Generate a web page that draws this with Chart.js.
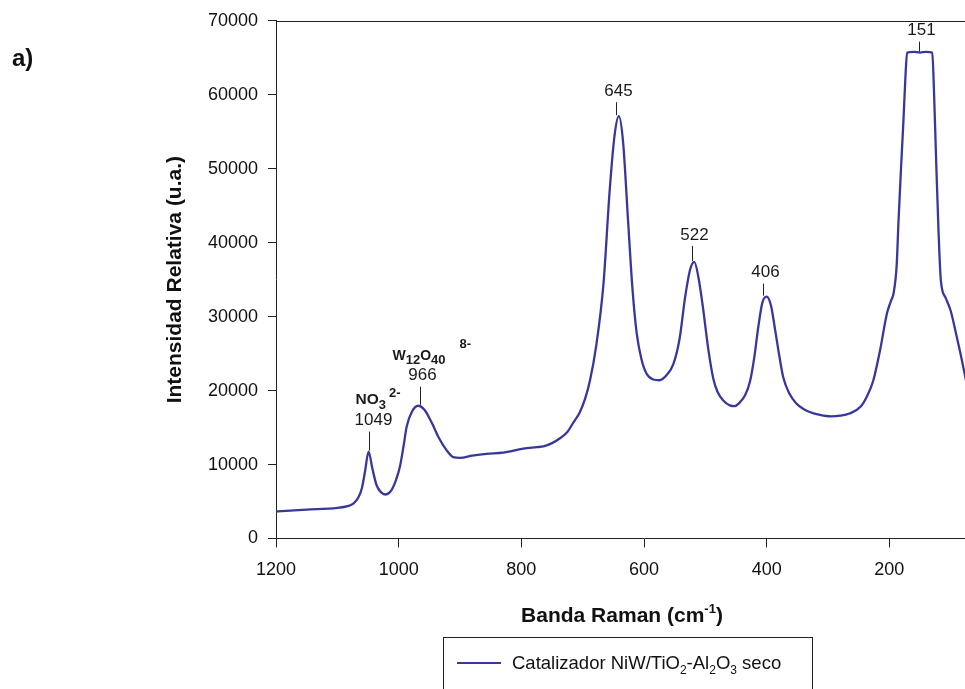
<!DOCTYPE html>
<html>
<head>
<meta charset="utf-8">
<script src="https://cdn.jsdelivr.net/npm/chart.js@4.4.1/dist/chart.umd.min.js"></script>
<style>
  body { margin: 0; width: 965px; height: 689px; overflow: hidden; background: #fff; position: relative; font-family: Arial, "Liberation Sans", sans-serif; }
  #wrap { position: absolute; left: 0; top: 0; width: 1030px; height: 689px; }
  #panel { position: absolute; left: 12px; top: 44px; font-weight: bold; font-size: 24px; color: #111; }
  #xtitle { position: absolute; left: 622px; top: 601px; transform: translateX(-50%); font-weight: bold; font-size: 21px; color: #111; white-space: nowrap; }
  #xtitle sup { font-size: 13px; vertical-align: 9px; }
  #legend { position: absolute; left: 443px; top: 637px; width: 368px; height: 80px; border: 1px solid #222; }
  #legend .swatch { position: absolute; left: 13px; top: 24px; width: 44px; height: 2px; background: #38389a; }
  #legend .txt { position: absolute; left: 68px; top: 14px; font-size: 18.5px; color: #111; white-space: nowrap; }
  #legend sub { font-size: 12px; vertical-align: -5px; }
</style>
</head>
<body>
<div id="wrap"><canvas id="myChart" width="1030" height="689"></canvas></div>
<div id="panel">a)</div>
<div id="xtitle">Banda Raman (cm<sup>-1</sup>)</div>
<div id="legend"><div class="swatch"></div><div class="txt">Catalizador NiW/TiO<sub>2</sub>-Al<sub>2</sub>O<sub>3</sub> seco</div></div>
<script>
// Raman spectrum
const wavenumber = [
  1200, 1150, 1100, 1080, 1074, 1066, 1060, 1055, 1049, 1043, 1036, 1028, 1021, 1012, 1004,
  998, 992, 987, 978, 968, 958, 950, 944, 935, 922, 911, 900, 880, 857, 830,
  797, 775, 764, 750, 737, 725, 715, 705, 696, 688, 678, 666, 656, 648, 641,
  634, 626, 619, 612, 604, 596, 585, 575, 563, 552, 542, 533, 525, 518, 511,
  504, 495, 487, 480, 470, 460, 452, 445, 435, 427, 420, 414, 407, 400, 393, 386,
  379, 373, 363, 352, 340, 330, 313, 295, 280, 265, 247, 236, 226, 215, 204,
  197, 193, 188, 185, 181, 177, 174, 171, 160, 150, 140, 130, 127, 124, 120,
  116, 108, 100, 92, 84, 76, 68, 60
];
const intensity = [
  3650, 3900, 4150, 4450, 4700, 5500, 6800, 9000, 11750, 9500, 7200, 6200, 5950, 6500, 8000,
  9700, 12500, 15100, 17200, 17950, 17400, 16300, 15300, 13700, 11950, 11000, 10900, 11200, 11450, 11600,
  12150, 12350, 12450, 12900, 13550, 14400, 15700, 17000, 18900, 21400, 26000, 34500, 47000, 54500, 57100,
  53500, 43000, 34000, 27800, 24200, 22300, 21500, 21400, 22100, 23600, 27000, 32600, 36300, 37400, 35200,
  31300, 25500, 21600, 19800, 18600, 18000, 17900, 18300, 19400, 21300, 24600, 28400, 31900, 32700, 31500, 28100,
  24500, 21800, 19600, 18300, 17500, 17100, 16700, 16500, 16600, 16900, 17800, 19300, 21400, 25500, 30400,
  32200, 33200, 37000, 43000, 50000, 56500, 62000, 65700, 65800, 65700, 65800, 65700, 60000, 52000, 42000,
  34900, 32500, 30800, 28000, 25000, 21800, 18500, 16000
];

// peak marks
const peakPos = [1049, 966, 645, 522, 406, 151];
const peakText = ['1049', '966', '645', '522', '406', '151'];

const xTicks = [1200, 1000, 800, 600, 400, 200];
const yTicks = [0, 10000, 20000, 30000, 40000, 50000, 60000, 70000];

const lineColor = '#38389a';

function peakHeight(pos) {
  let best = 0;
  wavenumber.forEach((w, i) => {
    if (Math.abs(w - pos) <= 8 && intensity[i] > best) best = intensity[i];
  });
  return best;
}

// draw text pieces with sub/superscripts, left aligned on a baseline
function drawRich(ctx, parts, x, y) {
  let cx = x;
  parts.forEach(p => {
    ctx.font = 'bold ' + p.size + 'px Arial, "Liberation Sans", sans-serif';
    ctx.fillText(p.t, cx + (p.dx || 0), y + (p.dy || 0));
    cx += ctx.measureText(p.t).width + (p.dx || 0);
  });
}

const peakLabels = {
  id: 'peakLabels',
  afterDatasetsDraw(chart) {
    const ctx = chart.ctx;
    const xs = chart.scales.x, ys = chart.scales.y;
    const leader = [19, 18, 13, 15, 12, 10];
    ctx.save();
    ctx.strokeStyle = '#222';
    ctx.lineWidth = 1;
    ctx.fillStyle = '#1a1a1a';
    ctx.textAlign = 'center';
    ctx.textBaseline = 'middle';
    ctx.font = '17px Arial, "Liberation Sans", sans-serif';
    peakPos.forEach((p, i) => {
      const px = Math.round(xs.getPixelForValue(p)) + 0.5;
      const py = ys.getPixelForValue(peakHeight(p)) - 1;
      ctx.beginPath();
      ctx.moveTo(px, py);
      ctx.lineTo(px, py - leader[i]);
      ctx.stroke();
      ctx.fillText(peakText[i], px + (i === 0 ? 4 : 2), py - leader[i] - 11);
    });
    // species names
    ctx.textAlign = 'left';
    ctx.textBaseline = 'alphabetic';
    let px = xs.getPixelForValue(1049);
    let py = ys.getPixelForValue(peakHeight(1049)) - 1 - leader[0] - 11 - 17;
    drawRich(ctx, [
      { t: 'NO', size: 15.5 },
      { t: '3', size: 13, dy: 5 },
      { t: '2-', size: 13, dy: -7, dx: 3 }
    ], px - 13, py);
    px = xs.getPixelForValue(966);
    py = ys.getPixelForValue(peakHeight(966)) - 1 - leader[1] - 11 - 16;
    drawRich(ctx, [
      { t: 'W', size: 14 },
      { t: '12', size: 13, dy: 4 },
      { t: 'O', size: 14 },
      { t: '40', size: 13, dy: 4 },
      { t: '8-', size: 13, dy: -12, dx: 14 }
    ], px - 27, py);
    ctx.restore();
  }
};

// top and right edge of the plot frame
const frame = {
  id: 'frame',
  afterDraw(chart) {
    const a = chart.chartArea, ctx = chart.ctx;
    ctx.save();
    ctx.strokeStyle = '#222';
    ctx.lineWidth = 1;
    ctx.beginPath();
    ctx.moveTo(a.left, Math.round(a.top) + 0.5);
    ctx.lineTo(a.right, Math.round(a.top) + 0.5);
    ctx.lineTo(a.right, a.bottom);
    ctx.stroke();
    ctx.restore();
  }
};

const chartContext = document.getElementById('myChart').getContext('2d');

const chart = new Chart(chartContext, {
  type: 'line',
  data: {
    datasets: [{
      label: 'Catalizador NiW/TiO\u2082-Al\u2082O\u2083 seco',
      data: wavenumber.map((w, i) => ({ x: w, y: intensity[i] })),
      borderColor: lineColor,
      borderWidth: 2.3,
      pointRadius: 0,
      fill: false,
      cubicInterpolationMode: 'monotone'
    }]
  },
  options: {
    responsive: false,
    animation: false,
    layout: { padding: { left: 158, top: 20, right: 18, bottom: 0 } },
    plugins: {
      legend: { display: false },
      tooltip: { enabled: false }
    },
    scales: {
      x: {
        type: 'linear',
        reverse: true,
        min: 0,
        max: 1200,
        afterBuildTicks: s => { s.ticks = xTicks.map(v => ({ value: v })); },
        afterFit: s => { s.height = 150.5; },
        ticks: {
          color: '#111',
          font: { size: 18, family: 'Arial, "Liberation Sans", sans-serif' },
          padding: 12,
          maxRotation: 0,
          callback: v => String(v)
        },
        grid: { drawOnChartArea: false, color: '#222', tickLength: 9 },
        border: { color: '#222', width: 1 }
      },
      y: {
        min: 0,
        max: 70000,
        afterBuildTicks: s => { s.ticks = yTicks.map(v => ({ value: v })); },
        afterFit: s => { s.width = 118; },
        ticks: {
          color: '#111',
          font: { size: 18, family: 'Arial, "Liberation Sans", sans-serif' },
          padding: 10,
          callback: v => String(v)
        },
        grid: { drawOnChartArea: false, color: '#222', tickLength: 8 },
        border: { color: '#222', width: 1 },
        title: {
          display: true,
          text: 'Intensidad Relativa (u.a.)',
          color: '#111',
          font: { size: 21, weight: 'bold', family: 'Arial, "Liberation Sans", sans-serif' },
          padding: { top: 5, bottom: 0 }
        }
      }
    }
  },
  plugins: [peakLabels, frame]
});
</script>
</body>
</html>
